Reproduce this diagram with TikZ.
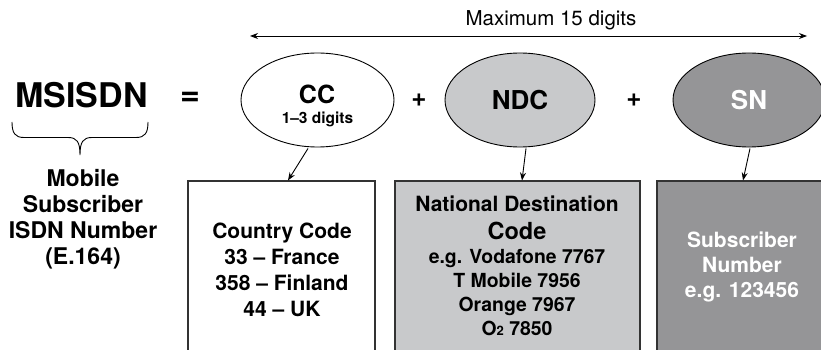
\documentclass[tikz,border=0pt]{standalone}
\usepackage{fontspec}
\setmainfont{TeX Gyre Heros}
\usetikzlibrary{shapes.geometric,arrows.meta,calc}

\definecolor{ndcgray}{HTML}{C8C9CB}
\definecolor{sngray}{HTML}{959597}
\definecolor{boxline}{HTML}{333333}

\begin{document}
\begin{tikzpicture}[x=1pt,y=-1pt,
  bf/.style={font=\fontsize{#1}{#1}\selectfont\bfseries, inner sep=0pt},
  line/.style={bf=#1, anchor=base},
  part/.style={ellipse, draw=black, line width=0.9pt, inner sep=0pt,
               minimum height=94pt},
  field/.style={rectangle, draw=boxline, line width=1.1pt, inner sep=0pt,
                minimum height=189pt},
  feed/.style={-{Stealth[length=8pt,width=6pt]}, line width=0.9pt},
  span/.style={{Stealth[length=8pt,width=6pt]}-{Stealth[length=8pt,width=6pt]}, line width=0.9pt}]
\useasboundingbox (0,0) rectangle (821,350);
\clip (0,0) rectangle (821,350);

% overall length
\coordinate (spanL) at (250,36);
\coordinate (spanR) at (807,36);
\draw[span] (spanL) -- (spanR);
\node[font=\fontsize{20.5}{20.5}\selectfont, inner sep=0pt, anchor=base] (maxlbl) at (551,25.5) {Maximum 15 digits};

% left-hand side
\node[line=34] (msisdn) at (81.5,108) {MSISDN};
\node[bf=34] (eq) at (190,98.5) {=};
\draw[line width=0.9pt] (12,122) .. controls (12,133) and (15,137.5) .. (24,137.5)
  -- (68,137.5) .. controls (77,137.5) and (80,142) .. (80,155)
  .. controls (80,142) and (83,137.5) .. (92,137.5)
  -- (136,137.5) .. controls (145,137.5) and (148,133) .. (148,122);
\foreach \t/\yy [count=\i] in {Mobile/186, Subscriber/212, ISDN Number/238, {(E.164)}/264}
  \node[line=23] (mob\i) at (83,\yy) {\t};

% the three parts
\node[part, fill=white, minimum width=153pt] (cc) at (317.5,100) {};
\node[line=25] (cctitle) at (317,103) {CC};
\node[line=15.5] (ccdigits) at (317.5,124) {1–3 digits};
\node[bf=26] (plusA) at (419,100) {+};
\node[part, fill=ndcgray, minimum width=150pt, bf=26] (ndc) at (520,100) {NDC};
\node[bf=26] (plusB) at (634,100) {+};
\node[part, fill=sngray, minimum width=152pt, bf=26, text=white] (sn) at (749,100) {SN};

% description fields
\node[field, fill=white, minimum width=187pt] (box1) at (281.5,275.5) {};
\node[field, fill=ndcgray, minimum width=245pt] (box2) at (517.5,275.5) {};
\node[field, fill=sngray, minimum width=193pt] (box3) at (753.5,275.5) {};

\foreach \t/\yy [count=\i] in {Country Code/238, 33 – France/264, 358 – Finland/290, 44 – UK/316}
  \node[line=21] (cc\i) at (282,\yy) {\t};

\node[line=21] (ndcA) at (517,211) {National Destination};
\node[line=23.5] (ndcB) at (517,239) {Code};
\foreach \t/\yy [count=\i] in {e.g. Vodafone 7767/263, T Mobile 7956/287, Orange 7967/311}
  \node[line=19.4] (ndcl\i) at (517,\yy) {\t};
\node[line=19.4] (ndcl4) at (517,335) {O{\fontsize{13}{13}\selectfont 2} 7850};

\foreach \t/\yy [count=\i] in {Subscriber/247, Number/272, e.g. 123456/297}
  \node[line=21, text=white] (snl\i) at (742,\yy) {\t};

% pointers from each part to its field
\draw[feed] ($(cc.south)+(-9.5,1)$) -- ($(box1.north)+(6.5,0)$);
\draw[feed] ($(ndc.south)+(6,1)$) -- ($(box2.north)+(4.5,0)$);
\draw[feed] ($(sn.south)+(1,1)$) -- ($(box3.north)+(-10.5,0)$);
\end{tikzpicture}
\end{document}
